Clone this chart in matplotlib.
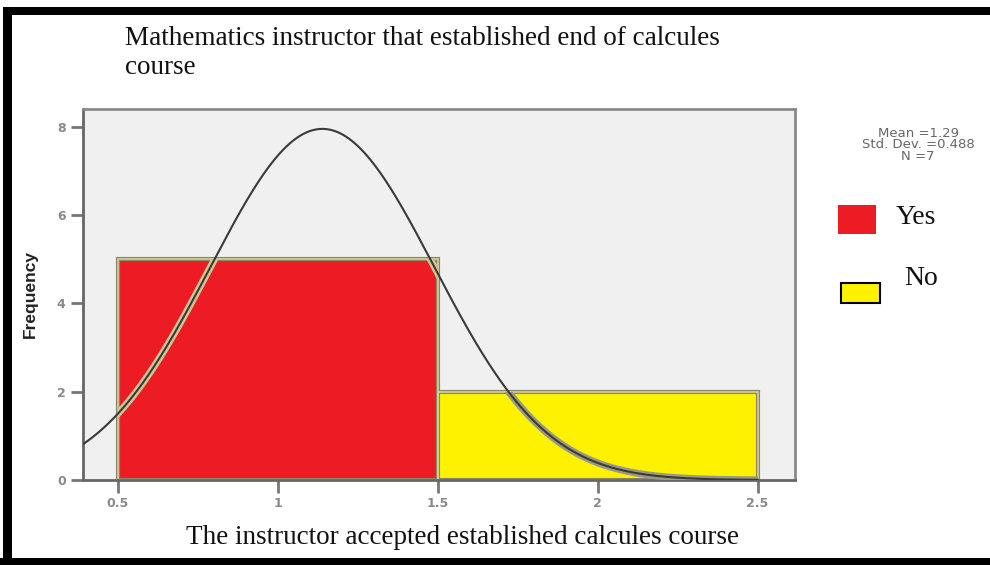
import numpy as np
import matplotlib.pyplot as plt
from matplotlib.patches import Rectangle

# histogram data (bin edges and counts)
categories = ['Yes', 'No']
bin_left = [0.5, 1.5]
counts = [5, 2]
bar_colors = ['#ed1c24', '#fff200']

# normal curve as drawn in the picture
curve_center = 1.14
curve_sd = 0.35
curve_peak = 7.95

stats_text = 'Mean =1.29\nStd. Dev. =0.488\nN =7'
x_ticks = [0.5, 1, 1.5, 2, 2.5]
x_ticklabels = ['0.5', '1', '1.5', '2', '2.5']
y_ticks = [0, 2, 4, 6, 8]

fig = plt.figure(figsize=(9.9, 5.65), dpi=100)
fig.patch.set_facecolor('white')

ax = fig.add_axes([83/990, 1-480/565, 712/990, 371/565])
ax.set_facecolor('#f0f0f0')
ax.set_xlim(0.392, 2.617)
ax.set_ylim(0, 8.4)

bars = []
for left, c, col in zip(bin_left, counts, bar_colors):
    b = ax.bar(left, c, width=1.0, align='edge', color=col,
               edgecolor='#8a8766', linewidth=3, zorder=2)[0]
    ax.bar(left, c, width=1.0, align='edge', color='none',
           edgecolor='#d6cf9e', linewidth=1.2, zorder=2.1)
    bars.append(b)

xs = np.linspace(0.392, 2.5, 400)
ys = curve_peak * np.exp(-0.5 * ((xs - curve_center) / curve_sd) ** 2)
for b, hc in zip(bars, ['#cfc894', '#9a9a80']):
    halo, = ax.plot(xs, ys, color=hc, linewidth=5, zorder=3)
    halo.set_clip_path(b)
ax.plot(xs, ys, color='#3a3a3a', linewidth=1.5, zorder=4)

for s in ax.spines.values():
    s.set_color('#8a8a8a')
    s.set_linewidth(2)
ax.spines['left'].set_color('#666666')
ax.spines['bottom'].set_color('#666666')

ax.set_xticks(x_ticks)
ax.set_xticklabels(x_ticklabels)
ax.set_yticks(y_ticks)
ax.tick_params(axis='both', colors='#777777', labelcolor='#8a8a8a',
               length=9, width=2, labelsize=9)
for lab in ax.get_xticklabels() + ax.get_yticklabels():
    lab.set_fontweight('bold')

ax.set_ylabel('Frequency', fontsize=12.5, fontweight='bold', family='Liberation Sans',
              color='#222222', labelpad=14)

serif = 'Liberation Serif'
fig.text(125/990, 1-53/565, 'Mathematics instructor that established end of calcules\ncourse',
         family=serif, fontsize=19.5, color='#111111', va='center', ha='left',
         linespacing=1.2)
fig.text(462/990, 1-537/565, 'The instructor accepted established calcules course',
         family=serif, fontsize=19.5, color='#111111', va='center', ha='center')

fig.text(918/990, 1-145/565, stats_text, fontsize=9.5, color='#666666',
         ha='center', va='center', linespacing=0.85)

# legend drawn by hand like the picture
fig.patches.append(Rectangle((838/990, 1-234/565), 38/990, 29/565,
                             transform=fig.transFigure, facecolor=bar_colors[0],
                             edgecolor='none'))
fig.patches.append(Rectangle((841/990, 1-303/565), 39/990, 20/565,
                             transform=fig.transFigure, facecolor=bar_colors[1],
                             edgecolor='black', linewidth=1.5))
fig.text(896/990, 1-218/565, categories[0], family=serif, fontsize=20,
         color='#111111', va='center')
fig.text(904/990, 1-279/565, categories[1], family=serif, fontsize=20,
         color='#111111', va='center')

# black frame around the picture
fig.patches.append(Rectangle((3/990, 0), 9/990, 1-7/565, transform=fig.transFigure,
                             facecolor='black', edgecolor='none'))
fig.patches.append(Rectangle((3/990, 1-15/565), 987/990, 8/565, transform=fig.transFigure,
                             facecolor='black', edgecolor='none'))
fig.patches.append(Rectangle((0, 0), 1, 7/565, transform=fig.transFigure,
                             facecolor='black', edgecolor='none'))

fig.savefig('out.png', dpi=100)
